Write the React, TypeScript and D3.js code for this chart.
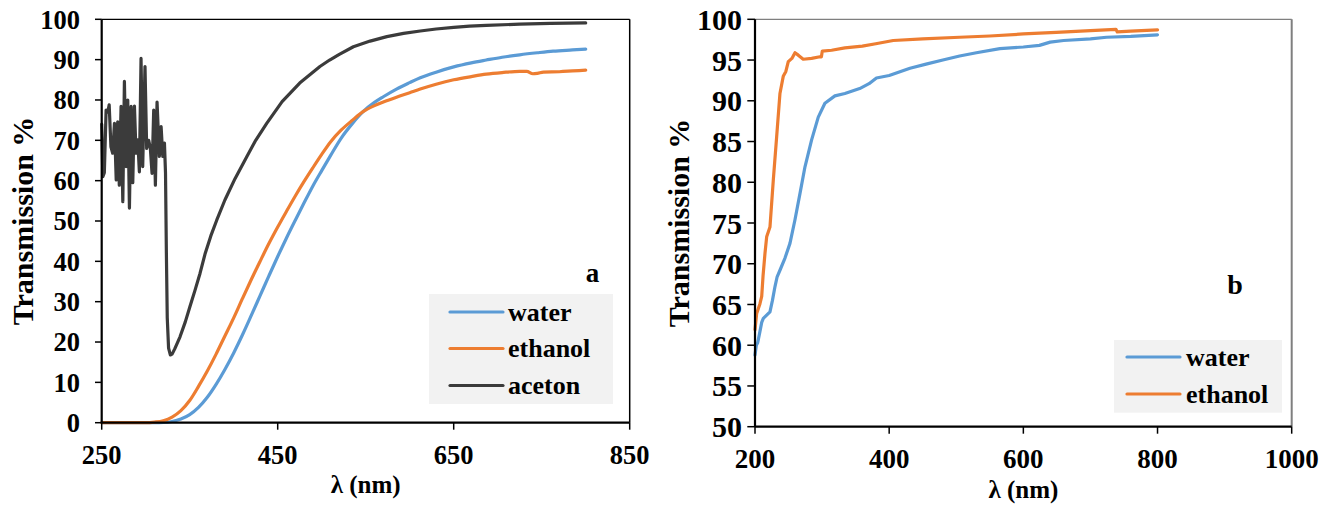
import React from "react";
import * as d3 from "d3";

// ---------- data ----------
const aTicksX = [250, 450, 650, 850];
const aTicksY = [0, 10, 20, 30, 40, 50, 60, 70, 80, 90, 100];
const bTicksX = [200, 400, 600, 800, 1000];
const bTicksY = [50, 55, 60, 65, 70, 75, 80, 85, 90, 95, 100];

const seriesNamesA = ["water", "ethanol", "aceton"];
const seriesNamesB = ["water", "ethanol"];
const colors = ["#5B9BD5", "#ED7D31", "#3b3b3b"];

const waterA: [number, number][] = [[250,0],[300,0],[310,0],[320,0.05],[330,0.3],[340,0.9],[350,2],[360,3.8],[370,6.3],[380,9.5],[390,13.2],[400,17.3],[410,21.8],[420,26.6],[430,31.5],[440,36.4],[450,41.2],[460,45.8],[470,50.2],[480,54.5],[490,58.7],[500,62.5],[510,66.2],[522,70.5],[535,74.2],[547,77.1],[560,79.4],[570,80.8],[585,82.7],[600,84.3],[612,85.5],[630,86.9],[650,88.2],[670,89.2],[687,89.9],[705,90.6],[725,91.2],[745,91.7],[763,92.1],[785,92.4],[800,92.6]];

const ethanolA: [number, number][] = [[250,0],[300,0],[310,0.15],[320,0.5],[330,1.4],[340,3],[350,5.5],[360,9],[370,12.8],[380,17],[390,21.5],[400,26],[410,30.8],[420,35.5],[430,40],[440,44.4],[450,48.5],[460,52.4],[470,56.2],[480,59.8],[490,63.2],[500,66.5],[510,69.6],[522,72.5],[535,75],[547,77.1],[560,78.6],[570,79.5],[585,80.7],[600,81.8],[612,82.7],[630,83.9],[650,85],[670,85.8],[687,86.4],[705,86.8],[725,87.1],[733,87.1],[740,86.5],[745,86.6],[752,86.9],[770,87],[785,87.2],[800,87.4]];

const acetonA: [number, number][] = [[250,74],[251.3,61],[253,62],[255,77.5],[257,77],[258.5,78.8],[260.5,68.4],[262.5,66.8],[264.5,74.2],[266.5,60.2],[268.2,74.6],[270,58.9],[272,78.4],[274,54.8],[275.8,84.6],[277.7,63.5],[279.6,80],[281.5,53.2],[283.4,78.4],[285.3,59.5],[287.2,78.5],[289,66.8],[291,70.1],[292.8,62.2],[294.7,90.3],[296.6,63.5],[299.2,88.3],[301.1,68],[303.4,70],[305.3,68],[307.2,61.8],[309.1,77.5],[311,58.9],[312.9,79.5],[315.5,66],[317.5,73.4],[319.4,66],[321.3,69.3],[322.5,62],[323.5,42],[324.5,26],[326,18.5],[328,16.8],[330,17],[333,18.3],[339,21.3],[345,25],[350.3,28.8],[356,32.8],[361.7,37],[367.4,41.8],[374,46.3],[380.7,50.2],[390,55.2],[401.5,60.5],[415,66],[425,70],[437.5,74.2],[455,79.6],[475,84.2],[498,88.3],[509,89.9],[520,91.3],[536,93.2],[555,94.6],[574,95.7],[593,96.5],[612,97.1],[630,97.6],[650,98],[668,98.3],[687,98.5],[725,98.8],[760,99],[800,99.1]];

const waterB: [number, number][] = [[200,58.8],[202,60],[204,60.3],[207.4,61.7],[210,62.8],[212.4,63.3],[217.4,63.7],[222.3,64.1],[226,65.5],[229.8,67.2],[233,68.4],[237.2,69.2],[244.7,70.7],[252.1,72.5],[259.6,75.4],[267,78.6],[274.5,81.9],[284.4,85.2],[294.3,88],[304.2,89.7],[319.1,90.6],[334,90.9],[356,91.5],[370,92.1],[381,92.8],[400,93.1],[431,94],[455,94.5],[480,95],[505,95.5],[530,95.9],[565,96.4],[600,96.6],[624,96.8],[640,97.2],[660,97.4],[700,97.6],[724,97.8],[760,97.9],[800,98.1]];

const ethanolB: [number, number][] = [[200,61.9],[202.5,63.9],[207.4,65.1],[210,66],[212,68.5],[214.9,71.3],[217.4,73.3],[222.3,74.5],[227.3,80.3],[232.3,85.6],[237.2,90.9],[242.1,93],[246,93.6],[249.6,94.8],[255,95.2],[259.6,95.9],[264.5,95.6],[271.9,95.1],[284.4,95.2],[296.8,95.4],[299,95.4],[300.3,96.1],[314.2,96.2],[334,96.5],[360,96.7],[380,97],[406,97.4],[450,97.6],[505,97.8],[550,97.95],[600,98.2],[649,98.4],[700,98.6],[738,98.77],[740,98.45],[760,98.55],[800,98.7]];

// ---------- component ----------
const FONT = '"Liberation Serif", "Times New Roman", serif';

export default function App() {
  const xA = d3.scaleLinear().domain([250, 850]).range([101.7, 629.7]);
  const yA = d3.scaleLinear().domain([0, 100]).range([422.7, 19.3]);
  const xB = d3.scaleLinear().domain([200, 1000]).range([755, 1291.7]);
  const yB = d3.scaleLinear().domain([50, 100]).range([426.7, 19.3]);

  const lineA = d3.line<[number, number]>().x(d => xA(d[0])).y(d => yA(d[1])).curve(d3.curveMonotoneX);
  const lineALin = d3.line<[number, number]>().x(d => xA(d[0])).y(d => yA(d[1])).curve(d3.curveLinear);
  const lineB = d3.line<[number, number]>().x(d => xB(d[0])).y(d => yB(d[1])).curve(d3.curveLinear);

  const seriesA = [waterA, ethanolA, acetonA];
  const seriesB = [waterB, ethanolB];

  const txt = { fontFamily: FONT, fontWeight: 700 as const, fill: "#000" };

  return (
    <svg width={1331} height={515} style={{ position: "absolute", left: 0, top: 0, background: "#fff" }}>
      {/* ===== Panel a ===== */}
      <g>
        <line x1={xA(250)} x2={xA(850)} y1={yA(100)} y2={yA(100)} stroke="#000" strokeWidth={1.3} />
        <line x1={xA(850)} x2={xA(850)} y1={yA(100)} y2={yA(0)} stroke="#000" strokeWidth={1.5} />
        {seriesA.map((s, i) => (
          <path key={i} d={(i === 2 ? lineALin(s) : lineA(s)) || ""} fill="none" stroke={colors[i]} strokeWidth={3.2} strokeLinejoin="round" strokeLinecap="round" />
        ))}
        <line x1={xA(250)} x2={xA(250)} y1={yA(100)} y2={yA(0)} stroke="#000" strokeWidth={2.2} />
        <line x1={xA(250)} x2={xA(850)} y1={yA(0)} y2={yA(0)} stroke="#000" strokeWidth={2.2} />
        {aTicksY.map(t => (
          <g key={t}>
            <line x1={95} x2={xA(250)} y1={yA(t)} y2={yA(t)} stroke="#000" strokeWidth={1.5} />
            <text x={80} y={yA(t)} dy="0.35em" textAnchor="end" fontSize={26.5} style={txt}>{t}</text>
          </g>
        ))}
        {aTicksX.map(t => (
          <g key={t}>
            <line x1={xA(t)} x2={xA(t)} y1={yA(0)} y2={yA(0) + 7} stroke="#000" strokeWidth={1.5} />
            <text x={xA(t)} y={464} textAnchor="middle" fontSize={26.5} style={txt}>{t}</text>
          </g>
        ))}
        <text x={(xA(250) + xA(850)) / 2} y={493} textAnchor="middle" fontSize={25} style={txt}>λ (nm)</text>
        <text transform={`translate(32.5,${(yA(0) + yA(100)) / 2}) rotate(-90)`} textAnchor="middle" fontSize={30} style={txt}>Transmission %</text>
        <text x={592.5} y={282} textAnchor="middle" fontSize={27} style={txt}>a</text>
        <rect x={429} y={294} width={184} height={110} fill="#f2f2f2" />
        {seriesNamesA.map((n, i) => {
          const ly = [312, 348.5, 385.5][i];
          return (
            <g key={n}>
              <line x1={450} x2={503} y1={ly} y2={ly} stroke={colors[i]} strokeWidth={3.2} strokeLinecap="round" />
              <text x={508} y={ly} dy="0.33em" fontSize={26} style={txt}>{n}</text>
            </g>
          );
        })}
      </g>

      {/* ===== Panel b ===== */}
      <g>
        <line x1={xB(200)} x2={xB(1000)} y1={yB(100)} y2={yB(100)} stroke="#7f7f7f" strokeWidth={1.3} />
        <line x1={xB(1000)} x2={xB(1000)} y1={yB(100)} y2={yB(50)} stroke="#7f7f7f" strokeWidth={2} />
        {seriesB.map((s, i) => (
          <path key={i} d={lineB(s) || ""} fill="none" stroke={colors[i]} strokeWidth={3.2} strokeLinejoin="round" strokeLinecap="round" />
        ))}
        <line x1={xB(200)} x2={xB(200)} y1={yB(100)} y2={yB(50)} stroke="#000" strokeWidth={2.2} />
        <line x1={xB(200)} x2={xB(1000)} y1={yB(50)} y2={yB(50)} stroke="#000" strokeWidth={2.2} />
        {bTicksY.map(t => (
          <g key={t}>
            <line x1={747.3} x2={xB(200)} y1={yB(t)} y2={yB(t)} stroke="#000" strokeWidth={1.5} />
            <text x={742} y={yB(t)} dy="0.35em" textAnchor="end" fontSize={30} style={txt}>{t}</text>
          </g>
        ))}
        {bTicksX.map(t => (
          <g key={t}>
            <line x1={xB(t)} x2={xB(t)} y1={yB(50)} y2={yB(50) + 7} stroke="#000" strokeWidth={1.5} />
            <text x={xB(t)} y={468} textAnchor="middle" fontSize={27} style={txt}>{t}</text>
          </g>
        ))}
        <text x={(xB(200) + xB(1000)) / 2} y={498} textAnchor="middle" fontSize={25} style={txt}>λ (nm)</text>
        <text transform={`translate(689,${(yB(50) + yB(100)) / 2}) rotate(-90)`} textAnchor="middle" fontSize={30} style={txt}>Transmission %</text>
        <text x={1235} y={294} textAnchor="middle" fontSize={28} style={txt}>b</text>
        <rect x={1114} y={340} width={168} height={72.7} fill="#f2f2f2" />
        {seriesNamesB.map((n, i) => {
          const ly = [357, 394][i];
          return (
            <g key={n}>
              <line x1={1127} x2={1180} y1={ly} y2={ly} stroke={colors[i]} strokeWidth={3.2} strokeLinecap="round" />
              <text x={1186} y={ly} dy="0.33em" fontSize={26} style={txt}>{n}</text>
            </g>
          );
        })}
      </g>
    </svg>
  );
}
